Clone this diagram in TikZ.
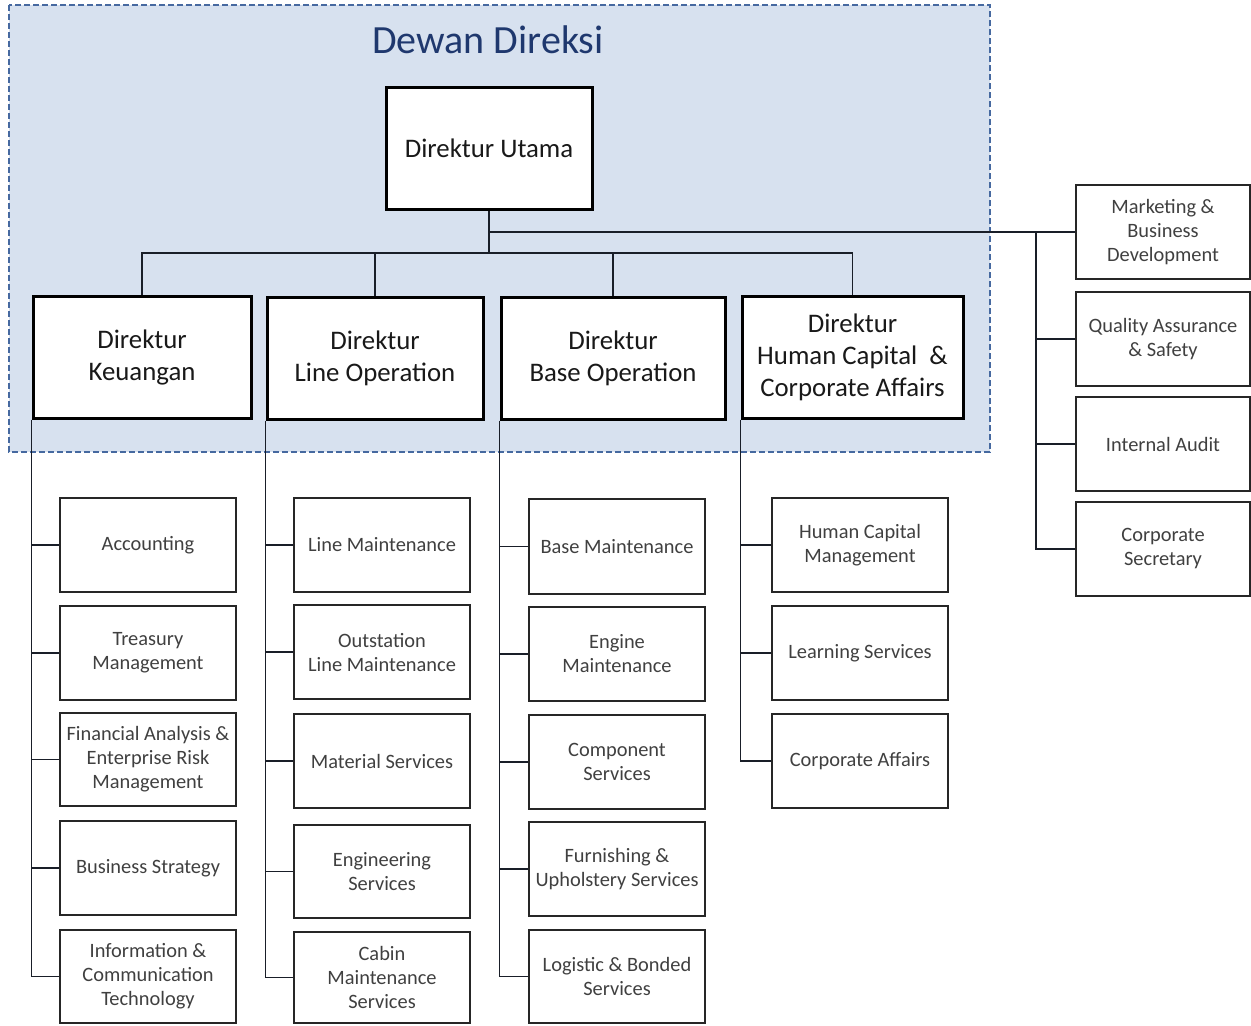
\documentclass[tikz,border=0pt]{standalone}
\usepackage{fontspec}
\setmainfont{Carlito}
\definecolor{panelblue}{RGB}{215,225,239}
\definecolor{dashblue}{RGB}{70,105,160}
\definecolor{titleblue}{RGB}{31,56,110}
\definecolor{txtgray}{RGB}{64,64,64}
\definecolor{linecol}{RGB}{25,30,40}
\newcommand\obox[7]{\node[#7, minimum width={(#4-#2)*0.5pt}, minimum height={(#5-#3)*0.5pt}] (#1) at ({(#2+#4)/2},{(#3+#5)/2}) {#6};}
\tikzset{
  dirbox/.style={draw=black, line width=1.5pt, fill=white, align=center, inner sep=0pt,
    font=\fontsize{13.4}{16}\selectfont, text=black!90},
  unitbox/.style={draw=black!85, line width=1.1pt, fill=white, align=center, inner sep=0pt,
    font=\fontsize{10.2}{12}\selectfont, text=txtgray},
  conn/.style={draw=linecol, line width=0.75pt},
}
\begin{document}
\begin{tikzpicture}[x=0.5pt,y=-0.5pt]
\useasboundingbox (0,0) rectangle (1251,1025);
\fill[white] (0,0) rectangle (1251,1025);
% Dewan Direksi panel
\draw[fill=panelblue, draw=dashblue, dashed, dash pattern=on 3pt off 1.5pt, line width=0.6pt] (9,5) rectangle (990,452);
\node[font=\fontsize{20}{24}\selectfont, text=titleblue] (title) at (488,40) {Dewan Direksi};
% Directors
\obox{DU}{386}{87}{592}{209}{Direktur Utama}{dirbox}
\obox{DK}{33}{296}{251}{418}{Direktur\\Keuangan}{dirbox}
\obox{DL}{267}{297}{483}{419}{Direktur\\Line Operation}{dirbox}
\obox{DB}{501}{297}{725}{419}{Direktur\\Base Operation}{dirbox}
\obox{DH}{742}{296}{963}{418}{Direktur\\Human Capital\ \ \&\\Corporate Affairs}{dirbox}
% Right column units
\obox{MB}{1076}{185}{1250}{279}{Marketing \&\\Business\\Development}{unitbox}
\obox{QA}{1076}{292}{1250}{386}{Quality Assurance\\\& Safety}{unitbox}
\obox{IA}{1076}{397}{1250}{491}{Internal Audit}{unitbox}
\obox{CS}{1076}{502}{1250}{596}{Corporate\\Secretary}{unitbox}
% Column 1
\obox{ACC}{60}{498}{236}{592}{Accounting}{unitbox}
\obox{TRE}{60}{606}{236}{700}{Treasury\\Management}{unitbox}
\obox{FIN}{60}{713}{236}{806}{Financial Analysis \&\\Enterprise Risk\\Management}{unitbox}
\obox{BUS}{60}{821}{236}{915}{Business Strategy}{unitbox}
\obox{INF}{60}{930}{236}{1023}{Information \&\\Communication\\Technology}{unitbox}
% Column 2
\obox{LM}{294}{498}{470}{592}{Line Maintenance}{unitbox}
\obox{OLM}{294}{605}{470}{699}{Outstation\\Line Maintenance}{unitbox}
\obox{MAT}{294}{714}{470}{808}{Material Services}{unitbox}
\obox{ENG}{294}{825}{470}{918}{Engineering\\Services}{unitbox}
\obox{CAB}{294}{932}{470}{1023}{Cabin\\Maintenance\\Services}{unitbox}
% Column 3
\obox{BM}{529}{499}{705}{594}{Base Maintenance}{unitbox}
\obox{EM}{529}{607}{705}{701}{Engine\\Maintenance}{unitbox}
\obox{COMP}{529}{715}{705}{809}{Component\\Services}{unitbox}
\obox{FUR}{529}{822}{705}{916}{Furnishing \&\\Upholstery Services}{unitbox}
\obox{LOG}{529}{930}{705}{1023}{Logistic \& Bonded\\Services}{unitbox}
% Column 4
\obox{HCM}{772}{498}{948}{592}{Human Capital\\Management}{unitbox}
\obox{LS}{772}{606}{948}{700}{Learning Services}{unitbox}
\obox{CA}{772}{714}{948}{808}{Corporate Affairs}{unitbox}
% Connectors: top
\coordinate (bus) at (489,253);
\coordinate (mbj) at (489,232);
\coordinate (rtrunk) at (1036,232);
\draw[conn] (DU.south) -- (bus);
\draw[conn] (DK.north) |- (bus) -| (DH.north);
\draw[conn] (DL.north) -- (DL.north |- bus);
\draw[conn] (DB.north) -- (DB.north |- bus);
\draw[conn] (mbj) -- (MB.west);
\draw[conn] (rtrunk) |- (CS.west);
\draw[conn] (rtrunk |- QA.west) -- (QA.west);
\draw[conn] (rtrunk |- IA.west) -- (IA.west);
% Column trunks
\draw[conn] (DK.south west) |- (INF.west);
\foreach \n in {ACC,TRE,FIN,BUS} \draw[conn] (DK.south west |- \n.west) -- (\n.west);
\draw[conn] (DL.south west) |- (CAB.west);
\foreach \n in {LM,OLM,MAT,ENG} \draw[conn] (DL.south west |- \n.west) -- (\n.west);
\draw[conn] (DB.south west) |- (LOG.west);
\foreach \n in {BM,EM,COMP,FUR} \draw[conn] (DB.south west |- \n.west) -- (\n.west);
\draw[conn] (DH.south west) |- (CA.west);
\foreach \n in {HCM,LS} \draw[conn] (DH.south west |- \n.west) -- (\n.west);
\end{tikzpicture}
\end{document}
